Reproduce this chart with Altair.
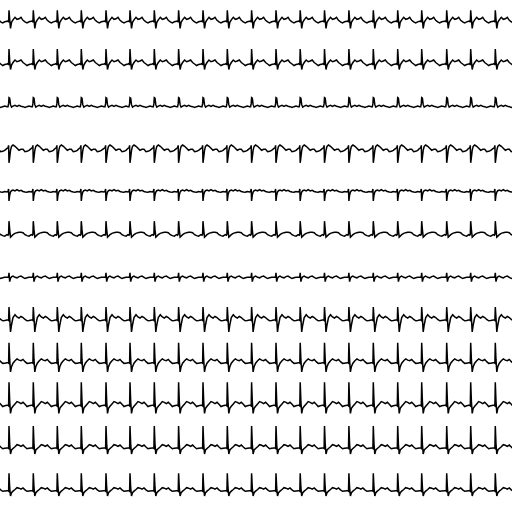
import altair as alt
import pandas as pd

# 12-lead ECG, 512 samples wide, amplitudes in pixel-like units
leads = ["I", "II", "III", "aVR", "aVL", "aVF", "V1", "V2", "V3", "V4", "V5", "V6"]

# R-peak sample positions (first one precedes the window)
r_peaks = [-15.3, 9, 33.3, 57.3, 81.3, 106, 130, 154.3, 178.6, 203, 227.3, 251.6,
           276, 300.2, 324.5, 348.9, 373.3, 397.7, 421.7, 446.7, 470.7, 495.3]

# beat template sample offsets relative to the R peak
beat_offsets = [-2, -1, -0.4, 0, 0.7, 1.5, 2.5, 4, 6, 8, 10, 12, 14, 16, 18, 20]

lead_I   = [0, 0.5, -1, 11, 2, -7, -1, 1.5, 4, 2, 2.5, 4, 1, -0.5, -1.5, -0.5]
lead_II  = [0, 0.5, -1, 15, 3, -5.5, -1, 1.5, 4, 2.3, 3, 4, 1.5, 0, -1.5, -0.5]
lead_III = [0, 0, 3, 9, 8.5, 2, -0.5, 0.5, 1.3, 0.3, 1.3, 0.5, 0, -0.8, 0, 0.6]
lead_aVR = [1, 1.5, 4, -13.5, -8, -1, 3, 4.3, 3, 1, -1, 0, 0, -2.3, -2, -1]
lead_aVL = [0, 0.5, 3, -9, -3, 0, 1.3, 2, 1, 2.3, 1, 1.7, 0.5, 0, -0.3, 0.5]
lead_aVF = [0, -0.5, 0.5, 13.5, 5, -2.5, -1.5, 0, 1.3, 2, 2.5, 2.5, 2, 0, -1, -1.5]
lead_V1  = [0, 0, 1, 4.5, -4.3, -1, 0.5, 1.2, 0, -0.5, 0.7, 1.2, 0, -1.2, -0.5, 0]
lead_V2  = [0, 0, -0.5, 13, 2, -12, -5, 2.5, 5.3, 3, 2, 3.5, 2.5, 0.5, -0.8, -0.5]
lead_V3  = [0, 0, -0.5, 20, 3, -9.3, -4, -0.5, 2, 3.7, 2.5, 2, 3.3, 1, -0.7, -0.5]
lead_V4  = [0, 0, -0.5, 23, 4, -8, -3, -1, 1.3, 3.7, 3, 1.7, 3, 1, -1.2, -0.5]
lead_V5  = [0, 0, -0.5, 22, 4, -6, -2, -0.5, 1.3, 3.3, 2.7, 1.7, 3, 1, -0.8, -0.3]
lead_V6  = [0, 0, -0.5, 17.5, 3, -5.3, -2, -0.5, 1.2, 3, 2.5, 1.5, 2.7, 0.8, -0.6, -0.3]

templates = [lead_I, lead_II, lead_III, lead_aVR, lead_aVL, lead_aVF,
             lead_V1, lead_V2, lead_V3, lead_V4, lead_V5, lead_V6]

n_rows = len(leads)
row_span = 512 / n_rows

rows = []
for i, (name, tpl) in enumerate(zip(leads, templates)):
    base = -(i + 0.5) * row_span
    for r in r_peaks:
        for off, v in zip(beat_offsets, tpl):
            rows.append({"lead": name, "x": r + off, "y": base + v})
df = pd.DataFrame(rows)

chart = alt.Chart(df).mark_line(color="black", strokeWidth=1.5, clip=True).encode(
    x=alt.X("x:Q", scale=alt.Scale(domain=[0, 512], nice=False, zero=False), axis=None),
    y=alt.Y("y:Q", scale=alt.Scale(domain=[-512, 0], nice=False, zero=False), axis=None),
    detail="lead:N",
).properties(
    width=512, height=512, padding=0,
    autosize=alt.AutoSizeParams(type="none"),
    background="white",
).configure_view(stroke=None)

chart.save("out.html", embed_options={"renderer": "svg", "actions": False})
